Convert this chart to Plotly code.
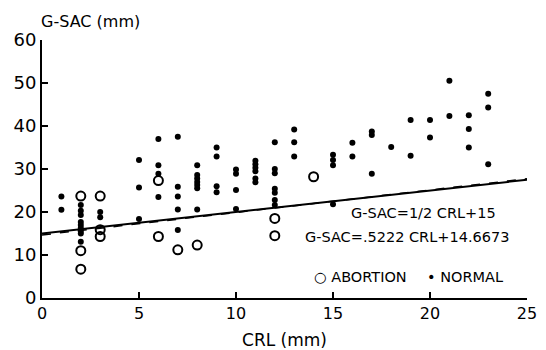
import plotly.graph_objects as go

# CRL (mm) vs G-SAC (mm)
normal_crl = [1, 1,
              2, 2, 2, 2, 2, 2, 2, 2, 2,
              3, 3,
              5, 5, 5,
              6, 6, 6, 6,
              7, 7, 7, 7, 7,
              8, 8, 8, 8, 8, 8, 8,
              9, 9, 9, 9,
              10, 10, 10, 10,
              11, 11, 11, 11, 11, 11,
              12, 12, 12, 12, 12, 12, 12,
              13, 13, 13,
              15, 15, 15, 15,
              16, 16,
              17, 17, 17,
              18,
              19, 19,
              20, 20,
              21, 21,
              22, 22, 22,
              23, 23, 23]
normal_gsac = [23.6, 20.5,
               21.6, 20.3, 19.3, 17.7, 17.0, 16.3, 15.6, 15.0, 13.1,
               20.0, 18.8,
               32.1, 25.7, 18.4,
               37.0, 30.9, 28.9, 23.5,
               37.5, 25.9, 23.6, 20.6, 15.8,
               30.9, 28.6, 27.8, 27.0, 26.3, 25.5, 20.6,
               35.0, 32.9, 26.0, 24.6,
               29.9, 28.9, 25.1, 20.7,
               31.9, 31.1, 30.3, 29.5, 27.8, 26.9,
               36.2, 30.0, 29.0, 25.4, 24.5, 22.8, 21.6,
               39.2, 36.2, 32.9,
               33.3, 32.1, 30.9, 21.8,
               36.1, 32.9,
               38.7, 37.9, 28.9,
               35.1,
               41.4, 33.1,
               41.4, 37.3,
               50.5, 42.3,
               42.5, 39.3, 35.0,
               47.5, 44.3, 31.1]

abortion_crl = [2, 2, 2, 3, 3, 3, 6, 6, 7, 8, 12, 12, 14]
abortion_gsac = [23.7, 11.0, 6.7, 23.7, 15.9, 14.3, 27.3, 14.3, 11.2, 12.3, 18.5, 14.5, 28.2]

# regression lines: G-SAC = slope * CRL + intercept
line_slopes = [0.5, 0.5222]
line_intercepts = [15.0, 14.6673]
line_labels = ["G-SAC=1/2 CRL+15", "G-SAC=.5222 CRL+14.6673"]
line_x = [0, 25]

x_ticks = [0, 5, 10, 15, 20, 25]
y_ticks = [0, 10, 20, 30, 40, 50, 60]

FONT = "DejaVu Sans, Liberation Sans, sans-serif"

fig = go.Figure()

dashes = ["solid", "dash"]
for s, b, lab, d in zip(line_slopes, line_intercepts, line_labels, dashes):
    fig.add_trace(go.Scatter(
        x=line_x, y=[s * xv + b for xv in line_x], mode="lines",
        line=dict(color="black", width=2 if d == "solid" else 1.5, dash=d),
        name=lab, showlegend=False, hoverinfo="skip"))

fig.add_trace(go.Scatter(
    x=abortion_crl, y=abortion_gsac, mode="markers", name="ABORTION",
    marker=dict(symbol="circle-open", size=9, color="black", line=dict(width=2, color="black"))))
fig.add_trace(go.Scatter(
    x=normal_crl, y=normal_gsac, mode="markers", name="NORMAL",
    marker=dict(symbol="circle", size=6, color="black")))

def note(text, x, y, anchor, size):
    fig.add_annotation(text=text, xref="paper", yref="paper", x=x, y=y,
                       xanchor=anchor, yanchor="middle", showarrow=False,
                       font=dict(family=FONT, size=size, color="black"))

note("G-SAC (mm)", -0.006, 1.07, "left", 16)
note(line_labels[0], 0.787, 0.331, "center", 14.5)
note(line_labels[1], 0.752, 0.236, "center", 14.5)
note("○ ABORTION", 0.557, 0.081, "left", 14.5)
note("• NORMAL", 0.790, 0.081, "left", 14.5)

# the page body adds an 8px margin, so the figure is sized to fit inside the window
fig.update_layout(
    width=538, height=342,
    margin=dict(l=34, r=19, t=32, b=52, autoexpand=False),
    plot_bgcolor="white", paper_bgcolor="white",
    font=dict(family=FONT, size=16, color="black"),
    showlegend=False,
    xaxis=dict(range=[0, 25], tickvals=x_ticks, ticks="inside", ticklen=6, tickwidth=2,
               tickcolor="black", showline=True, linecolor="black", linewidth=2,
               showgrid=False, zeroline=False, tickfont=dict(size=16), automargin=False,
               title=dict(text="CRL (mm)", font=dict(size=17), standoff=13)),
    yaxis=dict(range=[0, 60], tickvals=y_ticks, ticks="inside", ticklen=6, tickwidth=2,
               tickcolor="black", showline=True, linecolor="black", linewidth=2,
               showgrid=False, zeroline=False, tickfont=dict(size=18), automargin=False),
)

fig.write_html("out.html")
